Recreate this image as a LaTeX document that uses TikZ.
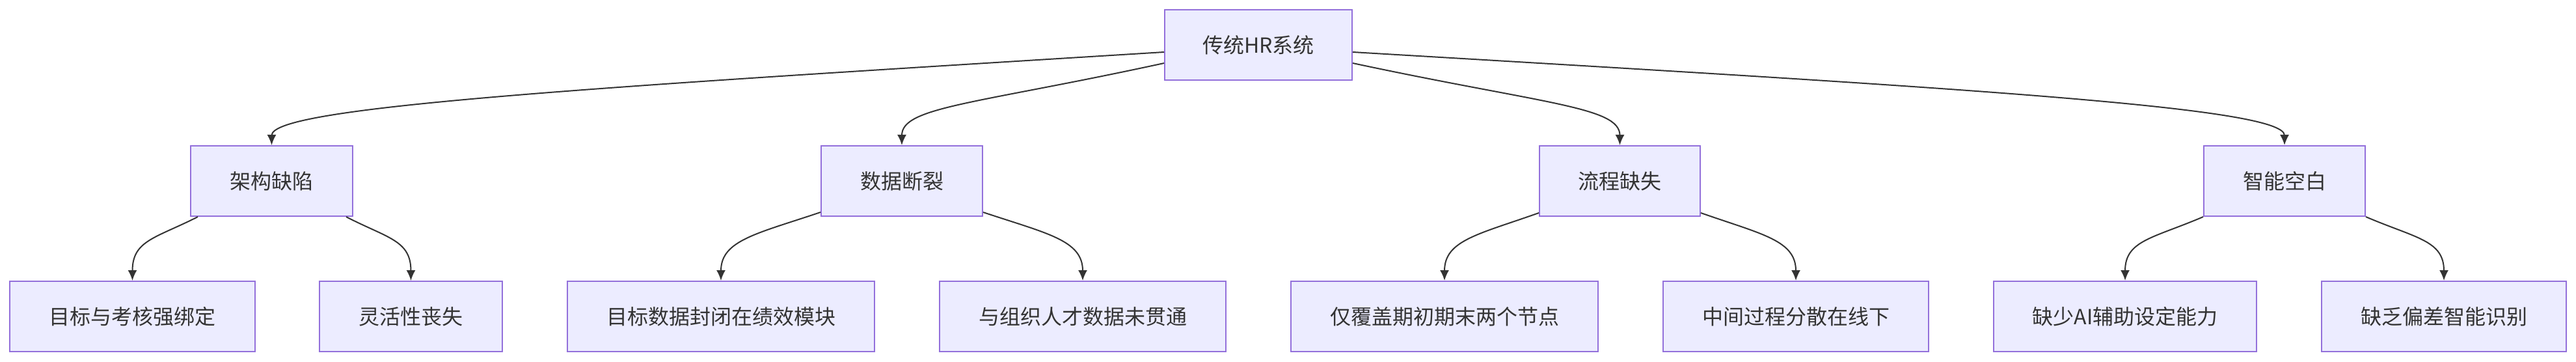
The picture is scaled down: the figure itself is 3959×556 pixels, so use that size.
\documentclass[tikz,border=0pt]{standalone}
\usepackage{fontspec}
\setmainfont{Noto Sans CJK SC}
\usetikzlibrary{arrows.meta}
\definecolor{nodefill}{HTML}{ECECFF}
\definecolor{nodeborder}{HTML}{9370DB}
\definecolor{edgecol}{HTML}{333333}
\definecolor{textcol}{HTML}{333333}
\tikzset{
  box/.style={draw=nodeborder, fill=nodefill, line width=2pt, inner xsep=0pt,
    minimum height=108pt, text=textcol, font=\fontsize{32}{38}\selectfont, anchor=center},
  edge/.style={draw=edgecol, line width=2pt, -{Latex[length=16pt,width=14pt]}}
}
\begin{document}
\begin{tikzpicture}[x=1pt,y=1pt]
\useasboundingbox[fill=white] (0,0) rectangle (3959,-556);
% root
\node[box, minimum width=288pt] (root) at (1934,-69.5) {传统HR系统};
% level 1
\node[box, minimum width=249pt] (A) at (417.5,-278) {架构缺陷};
\node[box, minimum width=248pt] (B) at (1386,-278) {数据断裂};
\node[box, minimum width=247pt] (C) at (2489.5,-278) {流程缺失};
\node[box, minimum width=248pt] (D) at (3511,-278) {智能空白};
% level 2
\node[box, minimum width=377pt] (A1) at (203.5,-486) {目标与考核强绑定};
\node[box, minimum width=281pt] (A2) at (631.5,-486) {灵活性丧失};
\node[box, minimum width=472pt] (B1) at (1108,-486) {目标数据封闭在绩效模块};
\node[box, minimum width=440pt] (B2) at (1664,-486) {与组织人才数据未贯通};
\node[box, minimum width=472pt] (C1) at (2220,-486) {仅覆盖期初期末两个节点};
\node[box, minimum width=408pt] (C2) at (2760,-486) {中间过程分散在线下};
\node[box, minimum width=404pt] (D1) at (3266,-486) {缺少AI辅助设定能力};
\node[box, minimum width=376pt] (D2) at (3756,-486) {缺乏偏差智能识别};
% root edges
\draw[edge] ([yshift=-10.5pt]root.west) .. controls +(-890,-55) and +(0,59) .. (A.north);
\draw[edge] ([yshift=-27.5pt]root.west) .. controls +(-290,-63) and +(0,59) .. (B.north);
\draw[edge] ([yshift=-27.5pt]root.east) .. controls +(295,-63) and +(0,59) .. (C.north);
\draw[edge] ([yshift=-10.5pt]root.east) .. controls +(929,-55) and +(0,59) .. (D.north);
% level 1 -> level 2
\draw[edge] ([xshift=12pt]A.south west) .. controls +(-65,-33) and +(0,62) .. (A1.north);
\draw[edge] ([xshift=-11pt]A.south east) .. controls +(64,-33) and +(0,62) .. (A2.north);
\draw[edge] ([yshift=7pt]B.south west) .. controls +(-98,-33) and +(0,62) .. (B1.north);
\draw[edge] ([yshift=7pt]B.south east) .. controls +(99,-33) and +(0,62) .. (B2.north);
\draw[edge] ([yshift=6pt]C.south west) .. controls +(-93,-33) and +(0,62) .. (C1.north);
\draw[edge] ([yshift=6pt]C.south east) .. controls +(94,-33) and +(0,62) .. (C2.north);
\draw[edge] (D.south west) .. controls +(-77,-33) and +(0,62) .. (D1.north);
\draw[edge] (D.south east) .. controls +(77,-33) and +(0,62) .. (D2.north);
\end{tikzpicture}
\end{document}
